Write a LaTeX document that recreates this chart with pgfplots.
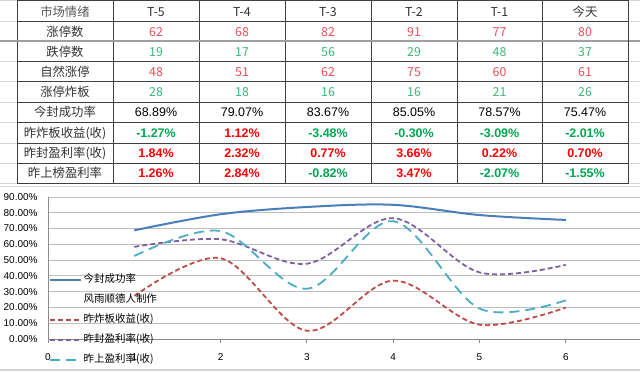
\documentclass[border=0pt]{standalone}
\usepackage{pgfplots}
\pgfplotsset{compat=1.18}
\usepackage{fontspec}
\setmainfont{Liberation Sans}
\newfontfamily\cjk{Noto Sans CJK SC}
\definecolor{tabline}{HTML}{404040}
\definecolor{faint}{HTML}{D4D4D4}
\definecolor{numred}{HTML}{E8505B}
\definecolor{numgreen}{HTML}{3CB878}
\definecolor{pctred}{HTML}{FF0000}
\definecolor{pctgreen}{HTML}{00A651}
\definecolor{lbl}{HTML}{333333}
\definecolor{hdr}{HTML}{5A5A5A}
\definecolor{sblue}{HTML}{4A7EBB}
\definecolor{sred}{HTML}{BE4B48}
\definecolor{spurple}{HTML}{7D60A0}
\definecolor{scyan}{HTML}{4BACC6}
\definecolor{gridgray}{HTML}{BEBEBE}
\definecolor{axisgray}{HTML}{8C8C8C}

\pgfplotstableread{
x  a      b     c     d
1  68.89  27.3  58.4  52.6
2  79.07  51.2  63.2  68.4
3  83.67  5.2   47.7  31.8
4  85.05  37.0  76.6  74.7
5  78.57  9.1   42.2  19.3
6  75.47  19.9  47.0  24.5
}\chartdata

\newcommand{\cjkf}{\cjk\fontsize{12.4}{14}\selectfont}
\newcommand{\pctf}{\fontsize{12.5}{14}\selectfont}

\begin{document}
\begin{tikzpicture}
\useasboundingbox (0,0) rectangle (640bp,372bp);
\fill[white] (0,0) rectangle (640bp,372bp);
\begin{scope}[shift={(0,372bp)},x=1bp,y=-1bp]
  % faint spreadsheet lines
  \foreach \y in {0.5,21,61,81,102,122,143,163,183} \draw[faint, line width=0.7bp] (0,\y) -- (640,\y);
  \draw[faint, line width=0.8bp] (0,186) -- (640,186);
  \draw[faint, line width=1.2bp] (0,370) -- (640,370);
  \draw[gray!75, line width=1.6bp] (0,41) -- (640,41);
  % table grid
  \foreach \y in {21,61,81,102,122,143,163} \draw[tabline, line width=0.8bp] (17,\y) -- (628,\y);
  \foreach \x in {113,199,285,371,457,542} \draw[tabline, line width=0.8bp] (\x,0.5) -- (\x,183);
  \draw[tabline, line width=0.8bp] (17,0.5) rectangle (628,183);
  \draw[gray!75, line width=1.6bp] (17,41) -- (628,41);
  % header row
  \node[anchor=base, inner sep=0, text=hdr, font=\cjkf] at (65,16.5) {市场情绪};
  \foreach \t/\x in {T-5/156,T-4/242,T-3/328,T-2/414,T-1/499.5} \node[anchor=base, inner sep=0, text=lbl, font=\cjkf] at (\x,16.5) {\t};
  \node[anchor=base, inner sep=0, text=lbl, font=\cjkf] at (585,16.5) {今天};
  % labels
  \foreach \t/\y in {涨停数/36.5,跌停数/56.5,自然涨停/76.5,涨停炸板/96.5,今封成功率/117,昨炸板收益(收)/137.5,昨封盈利率(收)/158,昨上榜盈利率/178}
    \node[anchor=base, inner sep=0, text=lbl, font=\cjkf] at (65,\y) {\t};
  % rows 1-4
  \foreach \v/\x in {62/156,68/242,82/328,91/414,77/499.5,80/585} \node[anchor=base, inner sep=0, text=numred, font=\cjkf] at (\x,36.5) {\v};
  \foreach \v/\x in {19/156,17/242,56/328,29/414,48/499.5,37/585} \node[anchor=base, inner sep=0, text=numgreen, font=\cjkf] at (\x,56.5) {\v};
  \foreach \v/\x in {48/156,51/242,62/328,75/414,60/499.5,61/585} \node[anchor=base, inner sep=0, text=numred, font=\cjkf] at (\x,76.5) {\v};
  \foreach \v/\x in {28/156,18/242,16/328,16/414,21/499.5,26/585} \node[anchor=base, inner sep=0, text=numgreen, font=\cjkf] at (\x,96.5) {\v};
  % row 5
  \foreach \v/\x in {68.89/156,79.07/242,83.67/328,85.05/414,78.57/499.5,75.47/585} \node[anchor=base, inner sep=0, text=black, font=\pctf] at (\x,117) {\v\%};
  % rows 6-8
  \foreach \v/\c/\x in {-1.27/pctgreen/156,1.12/pctred/242,-3.48/pctgreen/328,-0.30/pctgreen/414,-3.09/pctgreen/499.5,-2.01/pctgreen/585}
    \node[anchor=base, inner sep=0, text=\c, font=\pctf\bfseries] at (\x,137.5) {\v\%};
  \foreach \v/\c/\x in {1.84/pctred/156,2.32/pctred/242,0.77/pctred/328,3.66/pctred/414,0.22/pctred/499.5,0.70/pctred/585}
    \node[anchor=base, inner sep=0, text=\c, font=\pctf\bfseries] at (\x,158) {\v\%};
  \foreach \v/\c/\x in {1.26/pctred/156,2.84/pctred/242,-0.82/pctgreen/328,3.47/pctred/414,-2.07/pctgreen/499.5,-1.55/pctgreen/585}
    \node[anchor=base, inner sep=0, text=\c, font=\pctf\bfseries] at (\x,178) {\v\%};
\end{scope}

\begin{axis}[
  at={(48bp,33bp)}, anchor=south west,
  scale only axis, width=592bp, height=142bp,
  xmin=0, xmax=6.86, ymin=0, ymax=90,
  axis lines=left,
  axis line style={-, draw=axisgray, line width=0.8bp},
  xtick={0,...,6}, ytick={0,10,...,90},
  ymajorgrids, grid style={gridgray, line width=0.8bp},
  tick align=outside, major tick length=4bp,
  xtick style={draw=axisgray, line width=0.8bp},
  ytick style={draw=none},
  /pgf/number format/assume math mode=true,
  ticklabel style={font=\fontsize{10}{12}\selectfont, text=black},
  yticklabel={\pgfmathprintnumber[fixed,fixed zerofill,precision=2]{\tick}\%},
  yticklabel style={xshift=-3bp},
  xticklabel style={yshift=-7bp},
  legend cell align=left,
  legend style={at={(0.0017,0.465)}, anchor=north west, draw=none, fill=none,
    inner sep=0pt, row sep=6.5bp,
    font=\cjk\fontsize{10.5}{12}\selectfont,
    nodes={inner sep=1.5bp, text height=8bp, text depth=2.5bp}},
  legend image code/.code={\draw[#1] (0bp,0bp) -- (31bp,0bp);},
  every axis plot/.append style={smooth, tension=0.55},
]
\addplot[sblue, line width=2bp] table[x=x, y=a] {\chartdata};
\addlegendentry{今封成功率}
\addlegendimage{empty legend}
\addlegendentry{风雨顺德人制作}
\addplot[sred, line width=1.8bp, dash pattern=on 5bp off 3bp] table[x=x, y=b] {\chartdata};
\addlegendentry{昨炸板收益(收)}
\addplot[spurple, line width=1.8bp, dash pattern=on 5bp off 3bp] table[x=x, y=c] {\chartdata};
\addlegendentry{昨封盈利率(收)}
\addplot[scyan, line width=1.8bp, dash pattern=on 10bp off 6bp] table[x=x, y=d] {\chartdata};
\addlegendentry{昨上盈利率(收)}
\end{axis}
\end{tikzpicture}
\end{document}
